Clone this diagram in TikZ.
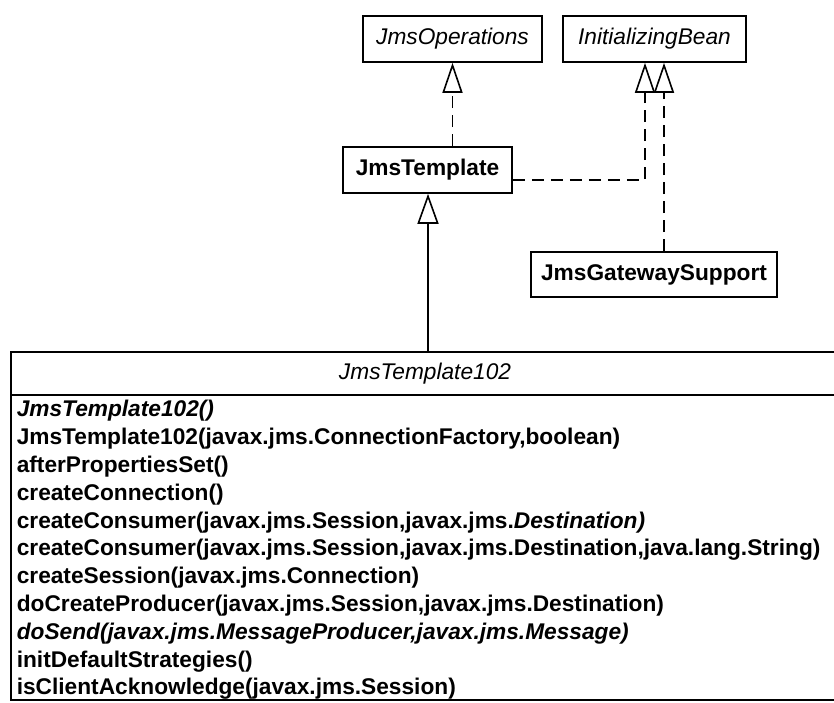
\documentclass[tikz,border=0pt]{standalone}
\usepackage{fontspec}
\setmainfont{Liberation Sans}
\usetikzlibrary{arrows.meta, math}
\newcommand{\umlsize}{\fontsize{22.7}{27}\selectfont}

\begin{document}
\begin{tikzpicture}[x=1pt, y=-1pt, line width=1.6pt,
  classbox/.style={draw, inner sep=0pt, minimum height=46pt, font=\umlsize\bfseries},
  ifacebox/.style={draw, inner sep=0pt, minimum height=46pt, font=\umlsize\itshape},
  realize/.style={dash pattern=on 12pt off 7pt, -{Triangle[open, length=30pt, width=20pt]}},
  extend/.style={-{Triangle[open, length=30pt, width=21pt]}}]
\tikzmath{
\yfirst=411;
\dy=27.8;
}
\useasboundingbox (0,0) rectangle (834,702);

\node[ifacebox, minimum width=179pt] (ops) at (452.5,39) {JmsOperations};
\node[ifacebox, minimum width=183pt] (init) at (654.5,39) {InitializingBean};
\node[classbox, minimum width=169pt] (tmpl) at (427.5,170) {JmsTemplate};
\node[classbox, minimum width=246pt, minimum height=45pt] (gw) at (654,274.5) {JmsGatewaySupport};

% JmsTemplate102
\draw (11,352) rectangle (860,700);
\draw (11,395) -- (860,395);
\node[font=\umlsize\itshape] (hdr) at (425,374) {JmsTemplate102};
\foreach \m [count=\i from 0] in {
  {\itshape JmsTemplate102()},
  {JmsTemplate102(javax.jms.ConnectionFactory,boolean)},
  {afterPropertiesSet()},
  {createConnection()},
  {createConsumer(javax.jms.Session,javax.jms.\textit{Destination)}},
  {createConsumer(javax.jms.Session,javax.jms.Destination,java.lang.String)},
  {createSession(javax.jms.Connection)},
  {doCreateProducer(javax.jms.Session,javax.jms.Destination)},
  {\itshape doSend(javax.jms.MessageProducer,javax.jms.Message)},
  {initDefaultStrategies()},
  {isClientAcknowledge(javax.jms.Session)}}
{
  \node[anchor=west, inner sep=0pt, font=\umlsize\bfseries] (m\i) at (16,\yfirst+\i*\dy) {\m};
}

\coordinate (clstop) at (428,352);
\coordinate (lft) at (645,180);
\coordinate (rgt) at (664,0);

\draw[realize] (ops.south |- tmpl.north) -- (ops.south);
\draw[realize] (tmpl.east |- lft) -- (lft) -- (lft |- init.south);
\draw[realize] (rgt |- gw.north) -- (rgt |- init.south);
\draw[extend] (clstop) -- (clstop |- tmpl.south);
\end{tikzpicture}
\end{document}
